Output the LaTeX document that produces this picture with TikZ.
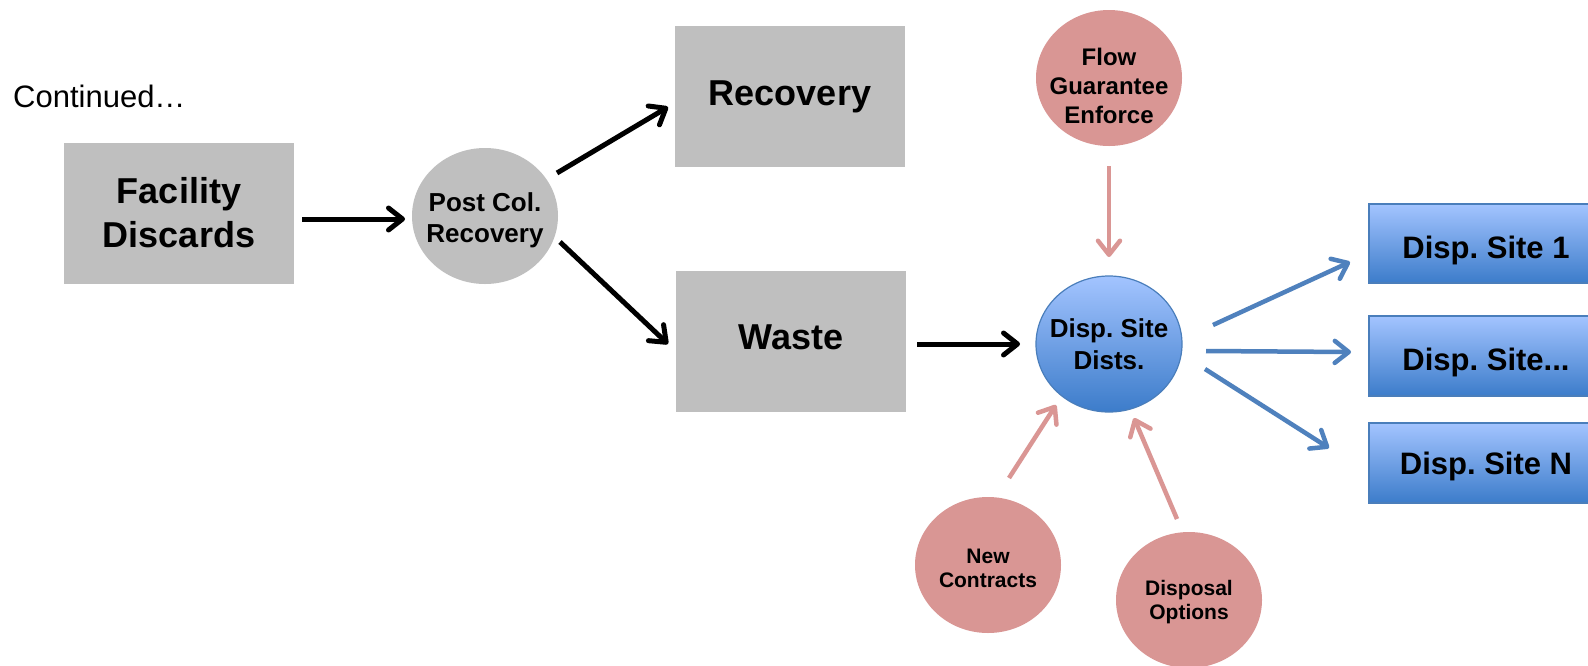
\documentclass[tikz,border=0pt]{standalone}
\usepackage{fontspec}
\setmainfont{Liberation Sans}
\usetikzlibrary{arrows.meta,calc,shapes.geometric}
\definecolor{boxgray}{HTML}{BFBFBF}
\definecolor{pinkfill}{HTML}{D99694}
\definecolor{pinkline}{HTML}{DA9694}
\definecolor{blueline}{HTML}{4F81BD}
\definecolor{blueborder}{HTML}{4A7EBB}
\definecolor{bluetop}{HTML}{A3C4FF}
\definecolor{bluebot}{HTML}{3C7CCA}
\newcommand\fsz[2]{\fontsize{#1}{#2}\selectfont}
\newcommand\lift[1]{\rule{0pt}{#1}}
\begin{document}
\frenchspacing
\begin{tikzpicture}[x=1pt,y=-1pt,
  graybox/.style={rectangle,fill=boxgray,minimum width=230pt,minimum height=141pt,inner sep=0pt,align=center,font=\fsz{36}{44}\bfseries},
  ellbase/.style={ellipse,minimum width=146pt,minimum height=136pt,inner xsep=-30pt,inner ysep=-30pt,align=center},
  grayell/.style={ellbase,fill=boxgray,font=\fsz{26}{31}\bfseries},
  pinkell/.style={ellbase,fill=pinkfill,font=\fsz{21}{24.5}\bfseries},
  blueell/.style={ellbase,draw=blueborder,line width=1.2pt,top color=bluetop,bottom color=bluebot,font=\fsz{26}{32}\bfseries},
  bluebox/.style={rectangle,draw=blueborder,line width=1.2pt,top color=bluetop,bottom color=bluebot,minimum width=234pt,minimum height=80pt,inner sep=0pt,align=center,font=\fsz{31}{37}\bfseries},
  blk/.style={draw=black,line width=5pt,-{Straight Barb[length=14pt,width=22pt,round]}},
  pnk/.style={draw=pinkline,line width=4.5pt,-{Straight Barb[length=14pt,width=22pt,round]}},
  blu/.style={draw=blueline,line width=4.5pt,-{Straight Barb[length=14pt,width=22pt,round]}}
]
\useasboundingbox (0,0) rectangle (1588,665);
\clip (0,0) rectangle (1588,665);
\fill[white] (0,0) rectangle (1588,665);

\node[anchor=base west,inner sep=0pt,font=\fsz{31}{37}] (cont) at (13,107) {Continued…};

\node[graybox] (fac) at (179,213) {Facility\\Discards};
\node[grayell] (post) at (485,216) {\lift{27pt}Post Col.\\Recovery};
\node[graybox] (rec) at (790,96.5) {Recovery};
\node[graybox,text depth=8pt] (waste) at (791,341.5) {Waste};

\node[pinkell,font=\fsz{24}{29}\bfseries] (flow) at (1109,78) {\lift{33pt}Flow\\Guarantee\\Enforce};
\node[blueell] (dists) at (1109,344) {Disp. Site\\Dists.};
\node[pinkell] (newc) at (988,565) {\lift{21.5pt}New\\Contracts};
\node[pinkell] (dispo) at (1189,600) {\lift{19.5pt}Disposal\\Options};

\node[bluebox,minimum height=79pt] (s1) at (1486,243.5) {\lift{36pt}Disp. Site 1};
\node[bluebox] (s2) at (1486,356) {\lift{36pt}Disp. Site...};
\node[bluebox] (s3) at (1486,463) {\lift{29pt}Disp. Site N};

\draw[blk] ($(fac)+(123,6)$) -- ($(post)+(-80,3)$);
\draw[blk] ($(post)+(72,-43)$) -- ($(rec)+(-122,10.5)$);
\draw[blk] ($(post)+(75,26)$) -- ($(waste)+(-123,2.5)$);
\draw[blk] ($(waste)+(126,2.5)$) -- ($(dists)+(-89,0)$);

\draw[pnk] ($(flow)+(0,88)$) -- ($(dists)+(0,-87)$);
\draw[pnk] ($(newc)+(21,-87)$) -- ($(dists)+(-53,61)$);
\draw[pnk] ($(dispo)+(-12,-81)$) -- ($(dists)+(25,74)$);

\draw[blu] ($(dists)+(104,-19)$) -- ($(s1)+(-136,18.5)$);
\draw[blu] ($(dists)+(97,7)$) -- ($(s2)+(-135,-4)$);
\draw[blu] ($(dists)+(96,25)$) -- ($(s3)+(-157,-15)$);
\end{tikzpicture}
\end{document}
